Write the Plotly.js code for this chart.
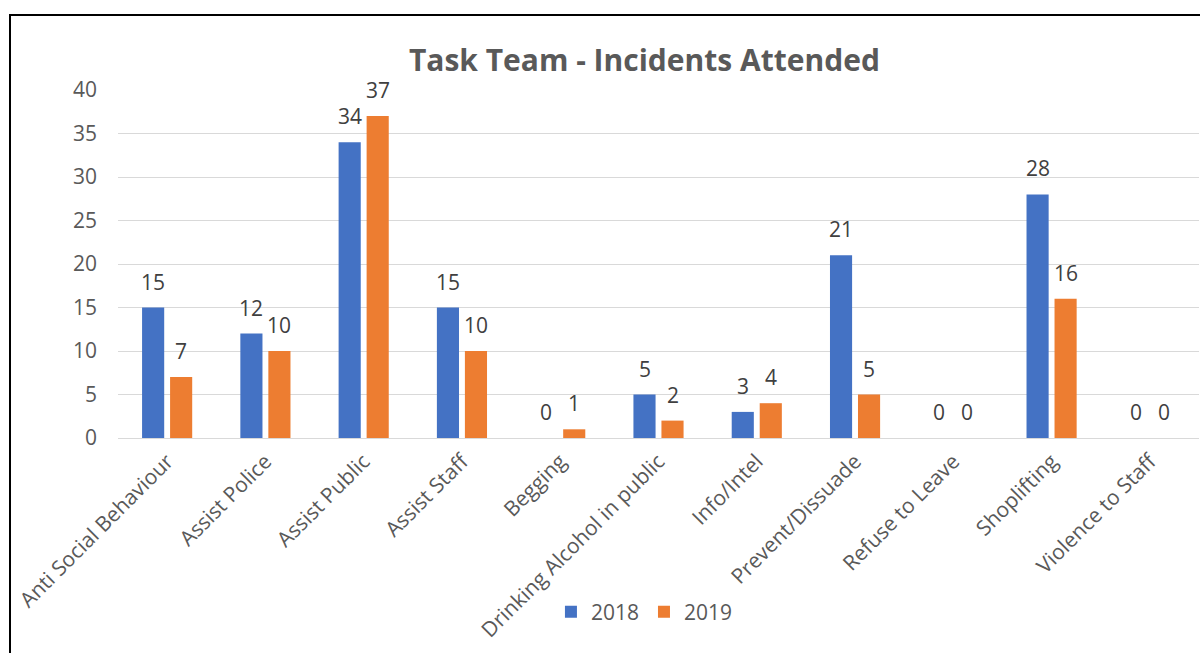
<!DOCTYPE html>
<html>
<head>
<meta charset="utf-8">
<script src="https://cdn.plot.ly/plotly-3.0.1.min.js"></script>
<style>
html,body{margin:0;padding:0;background:#fff;overflow:hidden;}
#chart{width:1200px;height:653px;}
#frame{position:absolute;left:9px;top:14px;width:1300px;height:800px;border:2px solid #000;pointer-events:none;}
</style>
</head>
<body>
<div id="chart"></div>
<div id="frame"></div>
<script>
const categories = ["Anti Social Behaviour","Assist Police","Assist Public","Assist Staff","Begging","Drinking Alcohol in public","Info/Intel","Prevent/Dissuade","Refuse to Leave","Shoplifting","Violence to Staff"];
const values2018 = [15,12,34,15,0,5,3,21,0,28,0];
const values2019 = [7,10,37,10,1,2,4,5,0,16,0];
const yTicks = [0,5,10,15,20,25,30,35,40];

const font = "Open Sans, Lato, sans-serif";
const lblFont = {family: font, size: 21, color: "#404040"};

const traces = [
  {type:"bar", name:"2018", x:categories, y:values2018, marker:{color:"#4472C4"}},
  {type:"bar", name:"2019", x:categories, y:values2019, marker:{color:"#ED7D31"}}
];

const annotations = [];
categories.forEach((c, i) => {
  annotations.push({x:c, y:values2018[i], xref:"x", yref:"y", text:String(values2018[i]), showarrow:false,
    xshift:-14, yshift:26, yanchor:"middle", font:lblFont});
  annotations.push({x:c, y:values2019[i], xref:"x", yref:"y", text:String(values2019[i]), showarrow:false,
    xshift:14, yshift:26, yanchor:"middle", font:lblFont});
});

const layout = {
  width:1200, height:653,
  margin:{l:118, r:1, t:90, b:215},
  paper_bgcolor:"#fff", plot_bgcolor:"#fff",
  title:{text:"<b>Task Team - Incidents Attended</b>", x:0.537, xanchor:"center", y:0.908, yanchor:"middle",
         font:{family:font, size:30, color:"#595959"}},
  barmode:"group", bargap:0.43, bargroupgap:0.21,
  showlegend:true,
  legend:{orientation:"h", x:0.487, xanchor:"center", y:-0.5, yanchor:"middle", bgcolor:"rgba(0,0,0,0)",
          font:{family:font, size:21, color:"#595959"}},
  annotations: annotations,
  xaxis:{tickangle:-45, tickfont:{family:font, size:21, color:"#595959"}, showgrid:false,
         showline:false, ticks:"", ticklabelstandoff:6, automargin:false},
  yaxis:{range:[0,40], tickvals:yTicks, showgrid:true, gridcolor:"#d9d9d9", gridwidth:1,
         zeroline:true, zerolinecolor:"#d9d9d9", zerolinewidth:1, showline:false,
         tickfont:{family:font, size:21, color:"#595959"}, ticks:"", ticklabelstandoff:20, automargin:false}
};

Plotly.newPlot("chart", traces, layout, {displayModeBar:false, staticPlot:true});
</script>
</body>
</html>
